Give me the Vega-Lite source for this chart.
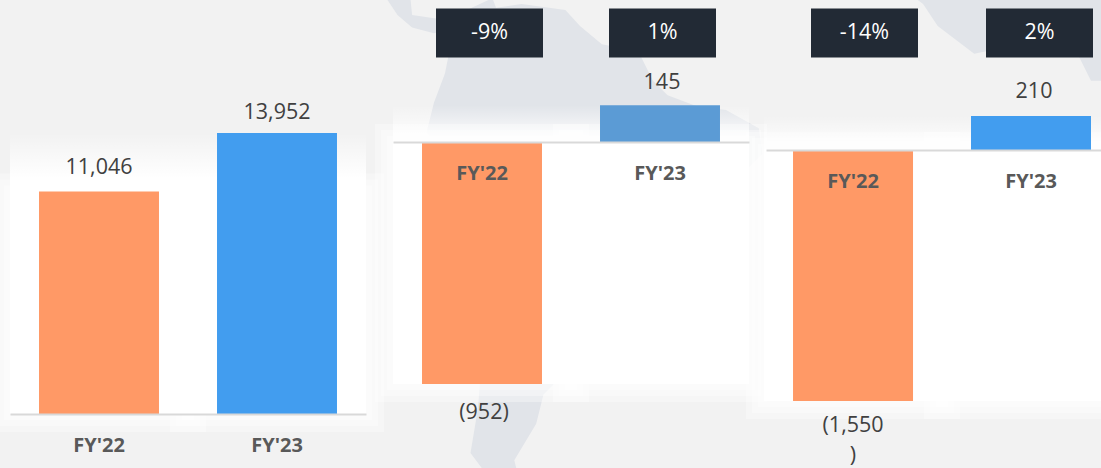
{"$schema":"https://vega.github.io/schema/vega-lite/v6.json","width":1101,"height":468,"padding":0,"autosize":{"type":"none"},"background":"#f2f2f2","config":{"view":{"stroke":null},"text":{"font":"Open Sans"},"axis":{"labelFont":"Open Sans"}},
"datasets":{"bars":[
{"panel":"a","fy":"FY'22","value":11046,"label":"11,046"},
{"panel":"a","fy":"FY'23","value":13952,"label":"13,952"},
{"panel":"b","fy":"FY'22","value":-952,"label":"(952)","change":"-9%"},
{"panel":"b","fy":"FY'23","value":145,"label":"145","change":"1%"},
{"panel":"c","fy":"FY'22","value":-1550,"label":"(1,550\n)","change":"-14%"},
{"panel":"c","fy":"FY'23","value":210,"label":"210","change":"2%"}]},
"resolve":{"scale":{"x":"independent","y":"independent","color":"independent"},"axis":{"x":"independent","y":"independent"}},
"layer":[
{"data":{"values":[
{"type":"Feature","properties":{"name":"South America"},"geometry":{"type":"Polygon","coordinates":[[[-77.5,8.5],[-75.5,10.7],[-72,12.3],[-71.5,11],[-68,11.5],[-62,10.7],[-60,8.5],[-57,6],[-52,5],[-50,1],[-48,-1],[-44,-2.5],[-40,-3],[-35.5,-5.5],[-35,-9],[-39,-13],[-39,-18],[-41,-22],[-46,-24],[-48.5,-27],[-52,-33],[-57,-35],[-57,-38],[-62,-39],[-65,-42],[-66,-46],[-69,-51],[-68,-55],[-72,-54],[-75,-50],[-74,-44],[-73.5,-38],[-71.5,-30],[-70,-18],[-76,-14],[-81,-6],[-80,-2],[-78.5,2],[-77.5,7],[-77.5,8.5]]]}},
{"type":"Feature","properties":{"name":"Central America"},"geometry":{"type":"Polygon","coordinates":[[[-90,14],[-87,13],[-85,10],[-83,8.3],[-80,7.5],[-77.5,8],[-79.5,9.5],[-83,10],[-83.5,15],[-88,16],[-92,18],[-90,14]]]}},
{"type":"Feature","properties":{"name":"Africa"},"geometry":{"type":"Polygon","coordinates":[[[-17,20],[-15,13],[-13,11.5],[-11,8.5],[-6,4.7],[-2,5.5],[3,6],[8,5],[10,1],[14,1],[14,20],[-17,20]]]}}
]},
"projection":{"type":"identity","reflectY":true,"scale":7.3,"translate":[1018,88]},
"mark":{"type":"geoshape","fill":"#e1e4e9","stroke":null}},
{"data":{"name":"bars"},"transform":[{"filter":"datum.panel==='a'"},{"joinaggregate":[{"op":"max","field":"value","as":"hi"},{"op":"min","field":"value","as":"lo"}]}],
"encoding":{"x":{"field":"fy","type":"nominal","title":null,"scale":{"domain":["FY'22","FY'23"],"range":[10,366],"paddingInner":0.326,"paddingOuter":0.163},"axis":{"orient":"bottom","offset":-54,"ticks":false,"domainColor":"#d9d9d9","domainWidth":2,"labelAngle":0,"labelFont":"Open Sans","labelFontSize":20,"labelFontWeight":"bold","labelColor":"#595959","labelPadding":21,"grid":false,"zindex":1}}},
"layer":[
{"mark":{"type":"bar","width":178,"fill":{"x1":0,"y1":0,"x2":0,"y2":1,"gradient":"linear","stops":[{"offset":0,"color":"rgba(255,255,255,0)"},{"offset":0.16,"color":"#ffffff"},{"offset":1,"color":"#ffffff"}]}},"encoding":{"y":{"field":"hi","type":"quantitative","scale":{"domain":[-2681,20556],"nice":false,"zero":false},"axis":null},"y2":{"datum":0}}},
{"mark":{"type":"bar","width":178,"fill":"#ffffff","stroke":"#ffffff","strokeOpacity":0.35,"strokeWidth":36},"encoding":{"y":{"field":"lo","type":"quantitative","scale":{"domain":[-2681,20556],"nice":false,"zero":false},"axis":null},"y2":{"datum":0}}},
{"mark":{"type":"bar","width":178,"fill":"#ffffff","stroke":"#ffffff","strokeOpacity":0.35,"strokeWidth":24},"encoding":{"y":{"field":"lo","type":"quantitative","scale":{"domain":[-2681,20556],"nice":false,"zero":false},"axis":null},"y2":{"datum":0}}},
{"mark":{"type":"bar","width":178,"fill":"#ffffff","stroke":"#ffffff","strokeOpacity":0.35,"strokeWidth":12},"encoding":{"y":{"field":"lo","type":"quantitative","scale":{"domain":[-2681,20556],"nice":false,"zero":false},"axis":null},"y2":{"datum":0}}},
{"mark":{"type":"bar"},"encoding":{"y":{"field":"value","type":"quantitative","scale":{"domain":[-2681,20556],"nice":false,"zero":false},"axis":null},"y2":{"datum":0},"color":{"field":"fy","type":"nominal","legend":null,"scale":{"domain":["FY'22","FY'23"],"range":["#ff9966","#429def"]}}}},
{"transform":[{"filter":"datum.fy==='FY\\'22'"}],"mark":{"type":"text","fontSize":21.5,"color":"#404040","dy":-18,"baseline":"alphabetic"},"encoding":{"y":{"field":"value","type":"quantitative","scale":{"domain":[-2681,20556],"nice":false,"zero":false},"axis":null},"text":{"field":"label"}}},
{"transform":[{"filter":"datum.fy==='FY\\'23'"}],"mark":{"type":"text","fontSize":21.5,"color":"#404040","dy":-14,"baseline":"alphabetic"},"encoding":{"y":{"field":"value","type":"quantitative","scale":{"domain":[-2681,20556],"nice":false,"zero":false},"axis":null},"text":{"field":"label"}}}
]},
{"data":{"name":"bars"},"transform":[{"filter":"datum.panel==='b'"},{"joinaggregate":[{"op":"max","field":"value","as":"hi"},{"op":"min","field":"value","as":"lo"}]}],
"encoding":{"x":{"field":"fy","type":"nominal","title":null,"scale":{"domain":["FY'22","FY'23"],"range":[393,749],"paddingInner":0.326,"paddingOuter":0.163},"axis":{"orient":"bottom","offset":-326,"ticks":false,"domainColor":"#d9d9d9","domainWidth":2,"labelAngle":0,"labelFont":"Open Sans","labelFontSize":20,"labelFontWeight":"bold","labelColor":"#595959","labelPadding":21,"grid":false,"zindex":1}}},
"layer":[
{"mark":{"type":"bar","width":178,"fill":{"x1":0,"y1":0,"x2":0,"y2":1,"gradient":"linear","stops":[{"offset":0,"color":"rgba(255,255,255,0)"},{"offset":1,"color":"#ffffff"}]}},"encoding":{"y":{"field":"hi","type":"quantitative","scale":{"domain":[-1282.5,558.6],"nice":false,"zero":false},"axis":null},"y2":{"datum":0}}},
{"mark":{"type":"bar","width":178,"fill":"#ffffff","stroke":"#ffffff","strokeOpacity":0.35,"strokeWidth":36},"encoding":{"y":{"field":"lo","type":"quantitative","scale":{"domain":[-1282.5,558.6],"nice":false,"zero":false},"axis":null},"y2":{"datum":0}}},
{"mark":{"type":"bar","width":178,"fill":"#ffffff","stroke":"#ffffff","strokeOpacity":0.35,"strokeWidth":24},"encoding":{"y":{"field":"lo","type":"quantitative","scale":{"domain":[-1282.5,558.6],"nice":false,"zero":false},"axis":null},"y2":{"datum":0}}},
{"mark":{"type":"bar","width":178,"fill":"#ffffff","stroke":"#ffffff","strokeOpacity":0.35,"strokeWidth":12},"encoding":{"y":{"field":"lo","type":"quantitative","scale":{"domain":[-1282.5,558.6],"nice":false,"zero":false},"axis":null},"y2":{"datum":0}}},
{"mark":{"type":"bar"},"encoding":{"y":{"field":"value","type":"quantitative","scale":{"domain":[-1282.5,558.6],"nice":false,"zero":false},"axis":null},"y2":{"datum":0},"color":{"field":"fy","type":"nominal","legend":null,"scale":{"domain":["FY'22","FY'23"],"range":["#ff9966","#5b9bd5"]}}}},
{"transform":[{"filter":"datum.value>0"}],"mark":{"type":"text","fontSize":21.5,"color":"#404040","dy":-16,"dx":2,"baseline":"alphabetic"},"encoding":{"y":{"field":"value","type":"quantitative","scale":{"domain":[-1282.5,558.6],"nice":false,"zero":false},"axis":null},"text":{"field":"label"}}},
{"transform":[{"filter":"datum.value<0"}],"mark":{"type":"text","fontSize":21.5,"color":"#404040","dy":35,"dx":2,"baseline":"alphabetic"},"encoding":{"y":{"field":"value","type":"quantitative","scale":{"domain":[-1282.5,558.6],"nice":false,"zero":false},"axis":null},"text":{"field":"label"}}}
]},
{"data":{"name":"bars"},"transform":[{"filter":"datum.panel==='c'"},{"joinaggregate":[{"op":"max","field":"value","as":"hi"},{"op":"min","field":"value","as":"lo"}]}],
"encoding":{"x":{"field":"fy","type":"nominal","title":null,"scale":{"domain":["FY'22","FY'23"],"range":[766,1101],"paddingInner":0.3258,"paddingOuter":0.104,"align":0.73},"axis":{"orient":"bottom","offset":-318,"ticks":false,"domainColor":"#d9d9d9","domainWidth":2,"labelAngle":0,"labelFont":"Open Sans","labelFontSize":20,"labelFontWeight":"bold","labelColor":"#595959","labelPadding":21,"grid":false,"zindex":1}}},
"layer":[
{"mark":{"type":"bar","width":178,"fill":{"x1":0,"y1":0,"x2":0,"y2":1,"gradient":"linear","stops":[{"offset":0,"color":"rgba(255,255,255,0)"},{"offset":1,"color":"#ffffff"}]}},"encoding":{"y":{"field":"hi","type":"quantitative","scale":{"domain":[-1964,926.5],"nice":false,"zero":false},"axis":null},"y2":{"datum":0}}},
{"mark":{"type":"bar","width":178,"fill":"#ffffff","stroke":"#ffffff","strokeOpacity":0.35,"strokeWidth":36},"encoding":{"y":{"field":"lo","type":"quantitative","scale":{"domain":[-1964,926.5],"nice":false,"zero":false},"axis":null},"y2":{"datum":0}}},
{"mark":{"type":"bar","width":178,"fill":"#ffffff","stroke":"#ffffff","strokeOpacity":0.35,"strokeWidth":24},"encoding":{"y":{"field":"lo","type":"quantitative","scale":{"domain":[-1964,926.5],"nice":false,"zero":false},"axis":null},"y2":{"datum":0}}},
{"mark":{"type":"bar","width":178,"fill":"#ffffff","stroke":"#ffffff","strokeOpacity":0.35,"strokeWidth":12},"encoding":{"y":{"field":"lo","type":"quantitative","scale":{"domain":[-1964,926.5],"nice":false,"zero":false},"axis":null},"y2":{"datum":0}}},
{"mark":{"type":"bar"},"encoding":{"y":{"field":"value","type":"quantitative","scale":{"domain":[-1964,926.5],"nice":false,"zero":false},"axis":null},"y2":{"datum":0},"color":{"field":"fy","type":"nominal","legend":null,"scale":{"domain":["FY'22","FY'23"],"range":["#ff9966","#429def"]}}}},
{"transform":[{"filter":"datum.value>0"}],"mark":{"type":"text","fontSize":21.5,"color":"#404040","dy":-18,"dx":3,"baseline":"alphabetic"},"encoding":{"y":{"field":"value","type":"quantitative","scale":{"domain":[-1964,926.5],"nice":false,"zero":false},"axis":null},"text":{"field":"label"}}},
{"transform":[{"filter":"datum.value<0"}],"mark":{"type":"text","fontSize":21.5,"color":"#404040","dy":31,"lineBreak":"\n","lineHeight":30,"baseline":"alphabetic"},"encoding":{"y":{"field":"value","type":"quantitative","scale":{"domain":[-1964,926.5],"nice":false,"zero":false},"axis":null},"text":{"field":"label"}}}
]},
{"data":{"name":"bars"},"transform":[{"filter":"datum.panel==='b'"}],
"encoding":{"x":{"field":"fy","type":"nominal","title":null,"scale":{"domain":["FY'22","FY'23"],"type":"point","range":[489.5,662.5],"padding":0},"axis":null}},
"layer":[
{"mark":{"type":"rect","width":107,"height":49,"fill":"#222a35"},"encoding":{"y":{"value":33}}},
{"mark":{"type":"text","fontSize":21.5,"color":"#ffffff"},"encoding":{"y":{"value":33},"text":{"field":"change"}}}]},
{"data":{"name":"bars"},"transform":[{"filter":"datum.panel==='c'"}],
"encoding":{"x":{"field":"fy","type":"nominal","title":null,"scale":{"domain":["FY'22","FY'23"],"type":"point","range":[864.5,1039.5],"padding":0},"axis":null}},
"layer":[
{"mark":{"type":"rect","width":107,"height":49,"fill":"#222a35"},"encoding":{"y":{"value":33}}},
{"mark":{"type":"text","fontSize":21.5,"color":"#ffffff"},"encoding":{"y":{"value":33},"text":{"field":"change"}}}]}
]}
